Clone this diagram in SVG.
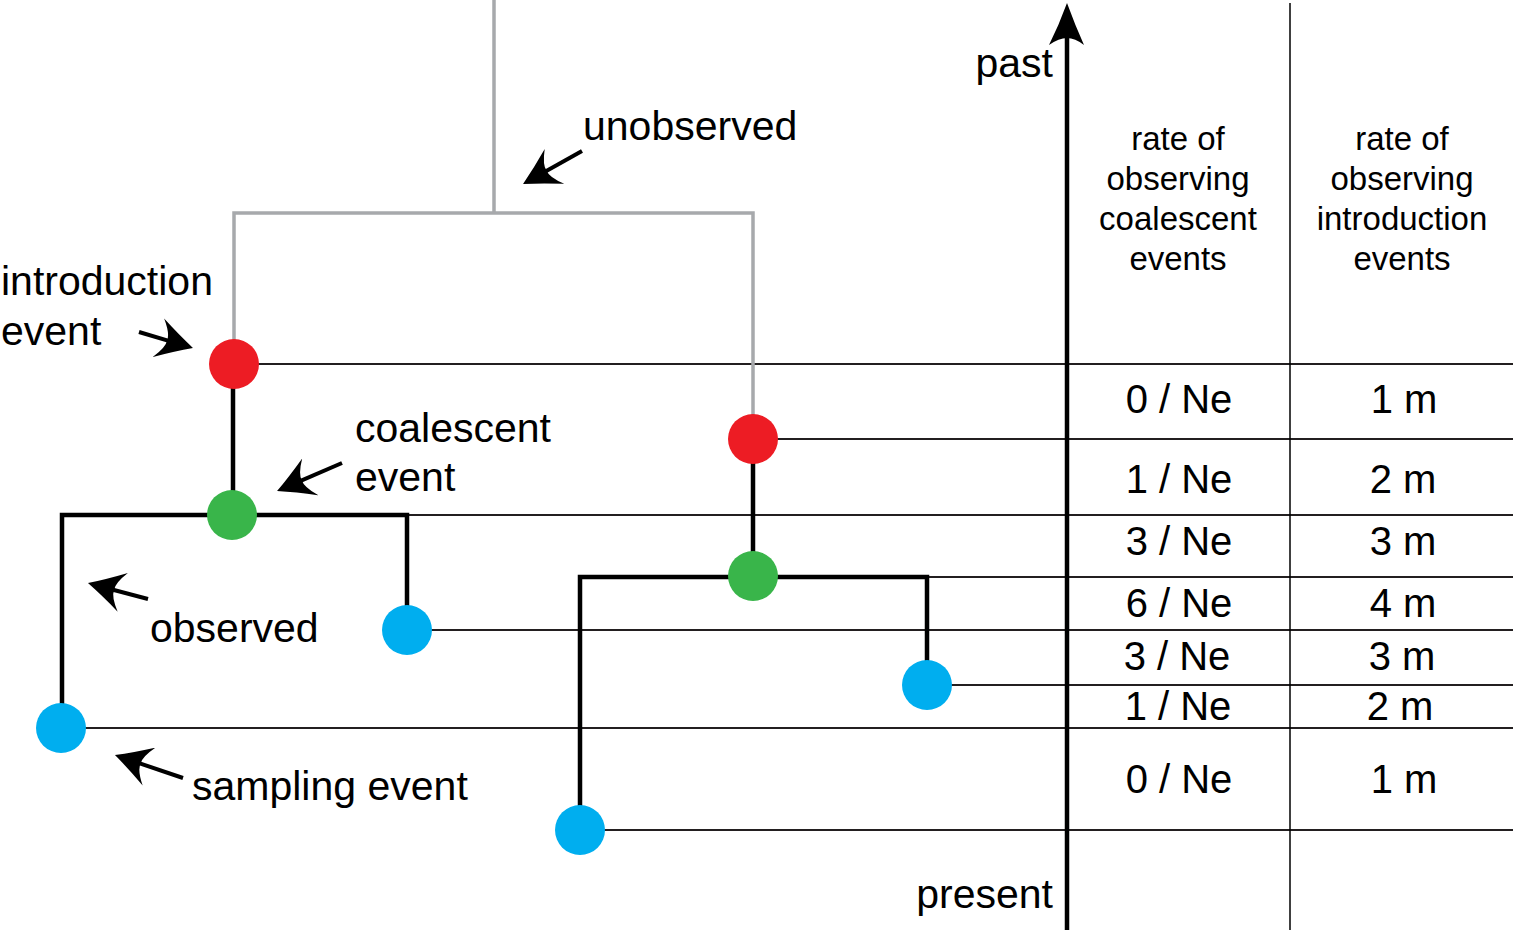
<svg xmlns="http://www.w3.org/2000/svg" width="1515" height="932" viewBox="0 0 1515 932">
<style>
  .lbl { font-family: "Liberation Sans", Arial, Helvetica, sans-serif; font-size: 41px; fill: #000; }
  .hdr { font-family: "Liberation Sans", Arial, Helvetica, sans-serif; font-size: 33px; fill: #000; text-anchor: middle; }
  .val { font-family: "Liberation Sans", Arial, Helvetica, sans-serif; font-size: 40px; fill: #000; text-anchor: middle; }
  .gray { stroke: #A7A9AC; stroke-width: 3.5; fill: none; }
  .thick { stroke: #000; stroke-width: 4.5; fill: none; }
  .thin { stroke: #231F20; stroke-width: 2; fill: none; }
  .arrow { stroke: #000; stroke-width: 4; fill: none; marker-end: url(#head); }
  .red { fill: #ED1C24; }
  .green { fill: #39B54A; }
  .blue { fill: #00AEEF; }
</style>
<defs>
  <marker id="head" markerUnits="userSpaceOnUse" viewBox="0 -21 37 42" markerWidth="37" markerHeight="42" refX="16" refY="0" orient="auto">
    <path d="M36,0 Q19,-8.5 0,-20 Q10,-7 9,0 Q10,7 0,20 Q19,8.5 36,0 Z" fill="#000"/>
  </marker>
</defs>
<rect width="1515" height="932" fill="#fff"/>

<g id="connectors">
  <!-- time lines -->
  <line class="thin" x1="234" y1="364" x2="1513" y2="364"/>
  <line class="thin" x1="753" y1="439" x2="1513" y2="439"/>
  <line class="thin" x1="407" y1="515" x2="1513" y2="515"/>
  <line class="thin" x1="927" y1="577" x2="1513" y2="577"/>
  <line class="thin" x1="407" y1="630" x2="1513" y2="630"/>
  <line class="thin" x1="927" y1="685" x2="1513" y2="685"/>
  <line class="thin" x1="62" y1="728" x2="1513" y2="728"/>
  <line class="thin" x1="580" y1="830" x2="1513" y2="830"/>
  <!-- unobserved tree -->
  <path class="gray" d="M494,0 V213 M234,364 V213 H753 V439"/>
  <!-- observed tree -->
  <path class="thick" d="M233,364 V515"/>
  <path class="thick" d="M62,728 V515 H407 V630"/>
  <path class="thick" d="M753,439 V577"/>
  <path class="thick" d="M580,830 V577 H927 V685"/>
  <!-- column divider -->
  <line stroke="#000" stroke-width="1.5" x1="1290" y1="3" x2="1290" y2="930"/>
  <!-- time axis -->
  <line stroke="#000" stroke-width="4.5" x1="1067" y1="930" x2="1067" y2="36"/>
  <path d="M1067,3 Q1075,25 1084,45 Q1075,38 1067,38 Q1059,38 1049,45 Q1059,25 1067,3 Z" fill="#000"/>
  <!-- label arrows -->
  <line class="arrow" x1="139" y1="332" x2="173.8" y2="342.3"/>
  <line class="arrow" x1="582" y1="151" x2="540.5" y2="174.2"/>
  <line class="arrow" x1="342" y1="463" x2="295.4" y2="483.1"/>
  <line class="arrow" x1="148" y1="599" x2="107.3" y2="588.2"/>
  <line class="arrow" x1="183" y1="778" x2="133.9" y2="761.4"/>
</g>

<g id="intro-left"><circle class="red" cx="234" cy="364" r="25"/></g>
<g id="intro-right"><circle class="red" cx="753" cy="439" r="25"/></g>
<g id="coal-left"><circle class="green" cx="232" cy="515" r="25"/></g>
<g id="coal-right"><circle class="green" cx="753" cy="576" r="25"/></g>
<g id="sample-1"><circle class="blue" cx="407" cy="630" r="25"/></g>
<g id="sample-2"><circle class="blue" cx="61" cy="728" r="25"/></g>
<g id="sample-3"><circle class="blue" cx="927" cy="685" r="25"/></g>
<g id="sample-4"><circle class="blue" cx="580" cy="830" r="25"/></g>

<g id="labels">
  <text class="lbl" x="583" y="140">unobserved</text>
  <text class="lbl" x="1" y="295">introduction</text>
  <text class="lbl" x="1" y="345">event</text>
  <text class="lbl" x="355" y="442">coalescent</text>
  <text class="lbl" x="355" y="491">event</text>
  <text class="lbl" x="150" y="642">observed</text>
  <text class="lbl" x="192" y="800">sampling event</text>
  <text class="lbl" x="1053" y="77" text-anchor="end">past</text>
  <text class="lbl" x="1053" y="908" text-anchor="end">present</text>
</g>

<g id="table-header">
  <text class="hdr" x="1178" y="150">rate of</text>
  <text class="hdr" x="1178" y="190">observing</text>
  <text class="hdr" x="1178" y="230">coalescent</text>
  <text class="hdr" x="1178" y="270">events</text>
  <text class="hdr" x="1402" y="150">rate of</text>
  <text class="hdr" x="1402" y="190">observing</text>
  <text class="hdr" x="1402" y="230">introduction</text>
  <text class="hdr" x="1402" y="270">events</text>
</g>

<g id="table-values">
  <text class="val" x="1179" y="413">0 / Ne</text>
  <text class="val" x="1404" y="413">1 m</text>
  <text class="val" x="1179" y="493">1 / Ne</text>
  <text class="val" x="1403" y="493">2 m</text>
  <text class="val" x="1179" y="555">3 / Ne</text>
  <text class="val" x="1403" y="555">3 m</text>
  <text class="val" x="1179" y="617">6 / Ne</text>
  <text class="val" x="1403" y="617">4 m</text>
  <text class="val" x="1177" y="670">3 / Ne</text>
  <text class="val" x="1402" y="670">3 m</text>
  <text class="val" x="1178" y="720">1 / Ne</text>
  <text class="val" x="1400" y="720">2 m</text>
  <text class="val" x="1179" y="793">0 / Ne</text>
  <text class="val" x="1404" y="793">1 m</text>
</g>
</svg>
